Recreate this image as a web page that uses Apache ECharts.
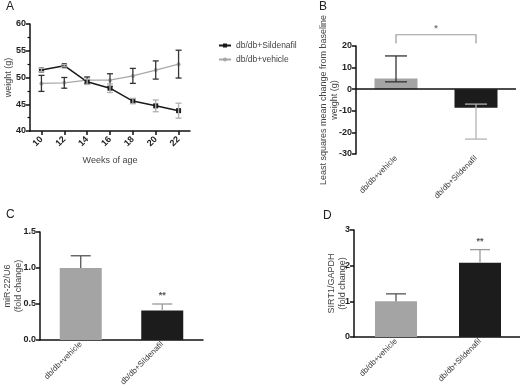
<!DOCTYPE html>
<html>
<head>
<meta charset="utf-8">
<script src="https://cdn.jsdelivr.net/npm/echarts@6/dist/echarts.min.js"></script>
<style>
html, body { margin: 0; padding: 0; background: #fff; }
#main { width: 520px; height: 388px; }
</style>
</head>
<body>
<div id="main"></div>
<script>
// A - body weight by week
const weeks = ['10', '12', '14', '16', '18', '20', '22']
const sildenafilWeight = [51.4, 52.2, 49.2, 48.0, 45.6, 44.7, 43.8]
const sildenafilErr = [0.3, 0.2, 0.5, 0.8, 0.5, 1.1, 1.4]
const vehicleWeight = [48.9, 49.0, 49.5, 49.5, 50.3, 51.4, 52.5]
const vehicleErr = [1.5, 1.0, 0.6, 1.2, 1.4, 1.7, 2.6]

// B, C, D - two groups
const groups = ['db/db+vehicle', 'db/db+Sildenafil']
const changeMean = [5.0, -8.6]
const changeErrLow = [3.4, -23.1]
const changeErrHigh = [15.4, -6.9]
const mirMean = [1.0, 0.41]
const mirErrHigh = [1.17, 0.50]
const mirSig = ['', '**']
const sirtMean = [1.0, 2.08]
const sirtErrHigh = [1.21, 2.45]
const sirtSig = ['', '**']

const FONT = 'Liberation Sans, Arial, sans-serif'
const barColors = ['#a4a4a4', '#1c1c1c']
const errColors = ['#333333', '#b3b3b3']

function errSeries(xi, yi, data, capW, lowCap, colorOf) {
  return {
    type: 'custom',
    xAxisIndex: xi,
    yAxisIndex: yi,
    clip: false,
    z: 5,
    data: data,
    renderItem: function (params, api) {
      const x = api.value(0)
      const lo = api.coord([x, api.value(1)])
      const hi = api.coord([x, api.value(2)])
      const style = { stroke: colorOf(params.dataIndex), lineWidth: 1.3 }
      const kids = [
        { type: 'line', shape: { x1: hi[0], y1: hi[1], x2: lo[0], y2: lo[1] }, style: style },
        { type: 'line', shape: { x1: hi[0] - capW / 2, y1: hi[1], x2: hi[0] + capW / 2, y2: hi[1] }, style: style },
      ]
      if (lowCap) {
        kids.push({ type: 'line', shape: { x1: lo[0] - capW / 2, y1: lo[1], x2: lo[0] + capW / 2, y2: lo[1] }, style: style })
      }
      return { type: 'group', children: kids }
    },
  }
}

function sigSeries(xi, yi, tops, marks) {
  return {
    type: 'custom',
    xAxisIndex: xi,
    yAxisIndex: yi,
    clip: false,
    z: 6,
    data: tops.map((t, i) => [i, t]),
    renderItem: function (params, api) {
      const p = api.coord([api.value(0), api.value(1)])
      return {
        type: 'text',
        style: {
          text: marks[params.dataIndex], x: p[0], y: p[1] - 4,
          align: 'center', verticalAlign: 'bottom',
          fill: '#555', font: 'bold 9px ' + FONT,
        },
      }
    },
  }
}

const axisLine = { show: true, lineStyle: { color: '#111', width: 1.5 } }
const tickLabel = { color: '#222', fontSize: 9, fontWeight: 'bold', fontFamily: FONT, margin: 4 }
const catLabel = { color: '#333', fontSize: 8, fontFamily: FONT, rotate: 45, margin: 3, interval: 0 }
const nameStyle = { color: '#444', fontSize: 9, fontFamily: FONT, lineHeight: 11 }

function valueAxis(grid, min, max, interval, name, gap, fmt) {
  return {
    type: 'value', gridIndex: grid, min: min, max: max, interval: interval,
    name: name, nameLocation: 'middle', nameRotate: 90, nameGap: gap, nameTextStyle: nameStyle,
    nameMoveOverlap: false,
    axisLine: axisLine,
    axisTick: { show: true, length: 4, lineStyle: { color: '#111', width: 1.5 } },
    axisLabel: Object.assign({}, tickLabel, fmt ? { formatter: fmt } : {}),
    splitLine: { show: false },
  }
}

function catAxis(grid, showLine) {
  return {
    type: 'category', gridIndex: grid, data: groups,
    axisLine: Object.assign({}, axisLine, { show: showLine, onZero: false }),
    axisTick: { show: false },
    axisLabel: catLabel,
  }
}

const chart = echarts.init(document.getElementById('main'))

const option = {
  animation: false,
  backgroundColor: '#fff',
  textStyle: { fontFamily: FONT },
  title: [
    { text: 'A', left: 6, top: 1 },
    { text: 'B', left: 319, top: 1 },
    { text: 'C', left: 6, top: 209 },
    { text: 'D', left: 323, top: 210 },
  ].map(t => Object.assign(t, { padding: 0, textStyle: { fontSize: 12, fontWeight: 'normal', color: '#222', fontFamily: FONT } })),
  legend: {
    data: ['db/db+Sildenafil', 'db/db+vehicle'],
    orient: 'vertical', left: 213, top: 36, itemGap: 5,
    itemWidth: 12, itemHeight: 5,
    textStyle: { color: '#444', fontSize: 8.5, fontFamily: FONT },
  },
  grid: [
    { left: 30, top: 24, width: 160, height: 107 },
    { left: 356, top: 46, width: 160, height: 108 },
    { left: 40, top: 232, width: 163, height: 108 },
    { left: 354, top: 230, width: 168, height: 107 },
  ].map(g => Object.assign(g, { outerBoundsMode: 'none', containLabel: false })),
  xAxis: [
    {
      type: 'category', gridIndex: 0, data: weeks,
      name: 'Weeks of age', nameLocation: 'middle', nameGap: 25,
      nameTextStyle: { color: '#444', fontSize: 9, fontFamily: FONT },
      nameMoveOverlap: false,
      axisLine: axisLine,
      axisTick: { show: true, alignWithLabel: true, length: 4, lineStyle: { color: '#111', width: 1.5 } },
      axisLabel: Object.assign({}, tickLabel, { rotate: 45, margin: 7 }),
    },
    catAxis(1, false),
    catAxis(2, true),
    catAxis(3, true),
  ],
  yAxis: [
    Object.assign(valueAxis(0, 40, 60, 5, 'weight (g)', 16), {
      minorTick: { show: true, splitNumber: 2, length: 2.5, lineStyle: { color: '#111', width: 1.2 } },
    }),
    valueAxis(1, -30, 20, 10, 'Least squares mean change from baseline\nweight (g)', 16),
    valueAxis(2, 0, 1.5, 0.5, 'miR-22/U6\n(fold change)', 16, v => v.toFixed(1)),
    valueAxis(3, 0, 3, 1, 'SIRT1/GAPDH\n(fold change)', 6),
  ],
  series: [
    {
      name: 'db/db+Sildenafil', type: 'line', xAxisIndex: 0, yAxisIndex: 0,
      data: sildenafilWeight, symbol: 'rect', symbolSize: 5,
      lineStyle: { color: '#1a1a1a', width: 1.5 }, itemStyle: { color: '#1a1a1a' }, z: 3,
    },
    {
      name: 'db/db+vehicle', type: 'line', xAxisIndex: 0, yAxisIndex: 0,
      data: vehicleWeight, symbol: 'circle', symbolSize: 4,
      lineStyle: { color: '#a8a8a8', width: 1.3 }, itemStyle: { color: '#a8a8a8' }, z: 2,
    },
    errSeries(0, 0, vehicleWeight.map((v, i) => [i, v - vehicleErr[i], v + vehicleErr[i]]), 6, true, () => '#333333'),
    errSeries(0, 0, sildenafilWeight.map((v, i) => [i, v - sildenafilErr[i], v + sildenafilErr[i]]), 6, true, () => '#b0b0b0'),

    {
      type: 'bar', xAxisIndex: 1, yAxisIndex: 1, barWidth: 43,
      data: changeMean.map((v, i) => ({ value: v, itemStyle: { color: barColors[i] } })),
      markLine: {
        silent: true, symbol: 'none', label: { show: false },
        lineStyle: { color: '#111', width: 1.5, type: 'solid' },
        data: [{ yAxis: 0 }],
      },
    },
    errSeries(1, 1, changeMean.map((v, i) => [i, changeErrLow[i], changeErrHigh[i]]), 22, true, i => errColors[i]),
    {
      type: 'custom', xAxisIndex: 1, yAxisIndex: 1, clip: false, z: 6,
      data: [[0, 1, 25.2, 21.1]],
      renderItem: function (params, api) {
        const a = api.coord([api.value(0), api.value(2)])
        const b = api.coord([api.value(1), api.value(2)])
        const foot = api.coord([api.value(0), api.value(3)])[1]
        const style = { stroke: '#9a9a9a', lineWidth: 1.2, fill: 'none' }
        return {
          type: 'group', children: [
            { type: 'polyline', shape: { points: [[a[0], foot], a, b, [b[0], foot]] }, style: style },
            { type: 'text', style: { text: '*', x: (a[0] + b[0]) / 2, y: a[1] - 2, align: 'center', verticalAlign: 'bottom', fill: '#777', font: 'bold 9px ' + FONT } },
          ],
        }
      },
    },

    {
      type: 'bar', xAxisIndex: 2, yAxisIndex: 2, barWidth: 42,
      data: mirMean.map((v, i) => ({ value: v, itemStyle: { color: barColors[i] } })),
    },
    errSeries(2, 2, mirMean.map((v, i) => [i, v, mirErrHigh[i]]), 20, false, i => i === 0 ? '#555' : '#999'),
    sigSeries(2, 2, mirErrHigh, mirSig),

    {
      type: 'bar', xAxisIndex: 3, yAxisIndex: 3, barWidth: 42,
      data: sirtMean.map((v, i) => ({ value: v, itemStyle: { color: barColors[i] } })),
    },
    errSeries(3, 3, sirtMean.map((v, i) => [i, v, sirtErrHigh[i]]), 20, false, i => i === 0 ? '#555' : '#999'),
    sigSeries(3, 3, sirtErrHigh, sirtSig),
  ],
}

chart.setOption(option)
</script>
</body>
</html>
